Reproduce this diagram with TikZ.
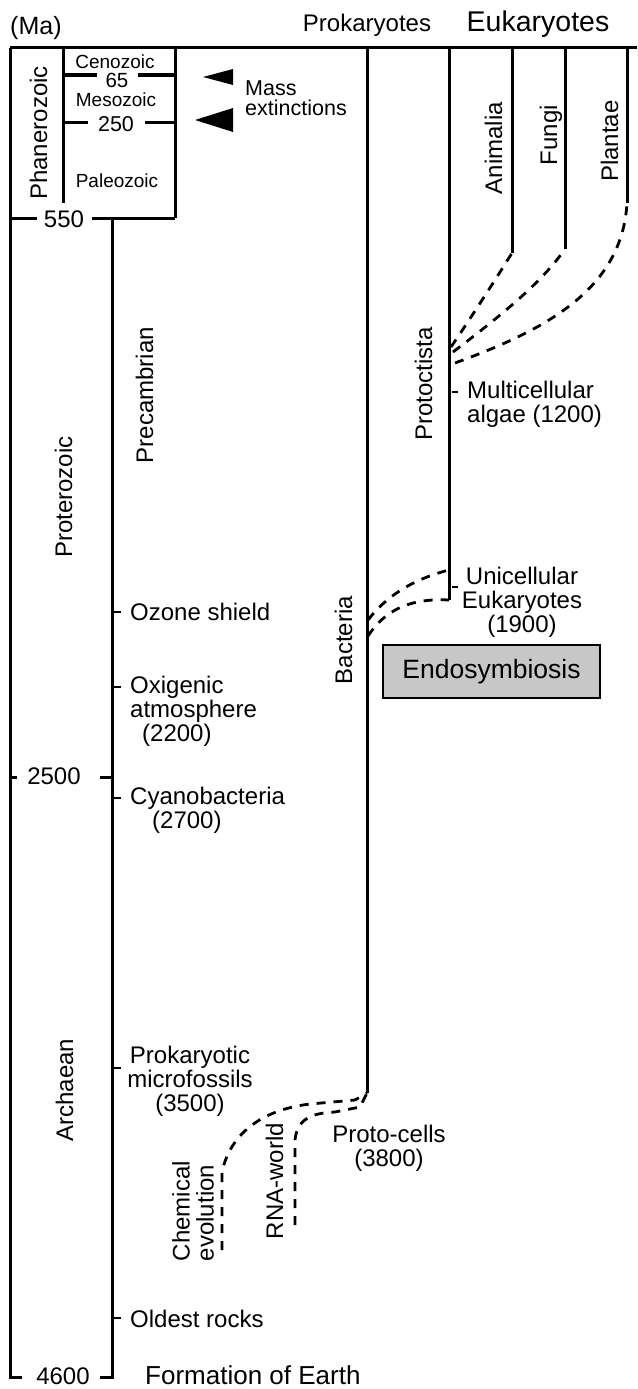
\documentclass[tikz,border=0pt]{standalone}
\usepackage{fontspec}
\setmainfont{Liberation Sans}
\usetikzlibrary{positioning,calc}
\newcommand{\fsz}[1]{\fontsize{#1}{24}\selectfont}

\begin{document}
\begin{tikzpicture}[x=1pt,y=-1pt,
    axis/.style={line width=3pt},
    branch/.style={line width=2.8pt,dash pattern=on 9pt off 8pt},
    tickmark/.style={line width=2pt},
    txt/.style={inner sep=0pt,font=\fsz{24}},
    vtxt/.style={inner sep=0pt,font=\fsz{24},rotate=90,anchor=base}]
  \useasboundingbox (0,0) rectangle (637,1389);
  % headers
  \node[txt,font=\fsz{25},anchor=base west] (ma) at (10,35) {(Ma)};
  \node[txt,anchor=base] (prok) at (367,32) {Prokaryotes};
  \node[txt,font=\fsz{28.5},anchor=base] (euk) at (538,32) {Eukaryotes};
  \draw[axis] (10,48) -- (637,48);
  % time axes
  \draw[axis] (10,48) -- (10,1377) -- (22,1377);
  \draw[axis] (112,218) -- (112,1377) -- (100,1377);
  \draw[axis] (10,777) -- (17,777) (100,777) -- (112,777);
  \node[txt,anchor=base] (t2500) at (54,784) {2500};
  \node[txt,anchor=base] (t4600) at (63,1384) {4600};
  \node[txt,font=\fsz{26},anchor=base west] (earth) at (145,1384) {Formation of Earth};
  % Phanerozoic box
  \draw[axis] (63,48) -- (63,203);
  \draw[axis] (175,48) -- (175,218);
  \draw[axis] (10,218) -- (37,218) (92,218) -- (175,218);
  \node[txt,anchor=base] (t550) at (64,227) {550};
  \draw[axis] (63,75) -- (97,75) (138,75) -- (175,75);
  \node[txt,font=\fsz{20.5},anchor=base] (t65) at (117,87) {65};
  \draw[axis] (63,122) -- (88,122) (145,122) -- (175,122);
  \node[txt,font=\fsz{21.5},anchor=base] (t250) at (116,131) {250};
  \node[txt,font=\fsz{19},anchor=base] (ceno) at (115,68) {Cenozoic};
  \node[txt,font=\fsz{19},anchor=base] (meso) at (116,106) {Mesozoic};
  \node[txt,font=\fsz{19},anchor=base] (paleo) at (117,187) {Paleozoic};
  \node[vtxt] (phan) at (47,133) {Phanerozoic};
  \node[vtxt] (prot) at (72,497) {Proterozoic};
  \node[vtxt] (arch) at (73,1090) {Archaean};
  \node[vtxt] (precam) at (153,395) {Precambrian};
  % mass extinctions
  \fill (203,77) -- (233,69) -- (233,85) -- cycle;
  \fill (195,120) -- (233,108) -- (233,132) -- cycle;
  \node[txt,font=\fontsize{21.5}{20}\selectfont,align=left,anchor=base west] (mass) at (245,115) {Mass\\extinctions};
  % events on the Precambrian axis
  \foreach \y in {612,687,798,1068,1318}
    \draw[tickmark] (114,\y) -- (121,\y);
  \node[txt,anchor=base west] (ozone) at (130,620) {Ozone shield};
  \node[txt,align=left,anchor=base west] (oxy) at (130,741) {Oxigenic\\atmosphere\\\hspace*{12pt}(2200)};
  \node[txt,align=left,anchor=base west] (cyano) at (130,828) {Cyanobacteria\\\hspace*{22pt}(2700)};
  \node[txt,align=center,anchor=base] (micro) at (190,1111) {Prokaryotic\\microfossils\\(3500)};
  \node[txt,anchor=base west] (rocks) at (130,1327) {Oldest rocks};
  % lineages
  \coordinate (bact) at (367,1093);
  \coordinate (protc) at (449,600);
  \coordinate (anim) at (512,253);
  \coordinate (fungi) at (565,249);
  \coordinate (plant) at (627,203);
  \draw[axis] (367,48) -- (bact);
  \draw[axis] (449,48) -- (protc);
  \draw[axis] (512,48) -- (anim);
  \draw[axis] (565,48) -- (fungi);
  \draw[axis] (627,48) -- (plant);
  \node[vtxt] (bactl) at (352,640) {Bacteria};
  \node[vtxt] (protl) at (432,384) {Protoctista};
  \node[vtxt] (animl) at (502,148) {Animalia};
  \node[vtxt] (fungl) at (557,135) {Fungi};
  \node[vtxt] (plantl) at (618,141) {Plantae};
  % branching
  \draw[branch] (451,347) .. controls (472,316) and (492,285) .. (anim);
  \draw[branch] (453,352) .. controls (495,320) and (540,285) .. (fungi);
  \draw[branch] (455,363) .. controls (545,330) and (622,290) .. (plant);
  \draw[branch] (368,620) .. controls (385,598) and (410,580) .. (449,570);
  \draw[branch] (368,636) .. controls (385,610) and (410,598) .. (protc);
  \foreach \y in {392,587}
    \draw[tickmark] (452,\y) -- (458,\y);
  \node[txt,align=left,anchor=base west] (multi) at (467,422) {Multicellular\\algae (1200)};
  \node[txt,align=center,anchor=base] (uni) at (522,632) {Unicellular\\Eukaryotes\\(1900)};
  \node[draw,line width=2.2pt,fill=black!22,minimum width=217pt,minimum height=53pt,
        inner sep=0pt,font=\fsz{26.5}] (endo) at (491.5,671.5) {Endosymbiosis};
  % origin of life
  \draw[branch] (222,1250) -- (222,1172) .. controls (230,1135) and (260,1110) .. (310,1104) -- (355,1100) -- (bact);
  \draw[branch] (295,1225) -- (295,1140) .. controls (297,1120) and (310,1113) .. (335,1112) -- (360,1107) -- (bact);
  \node[txt,rotate=90,align=left] (chem) at (193,1211) {Chemical\\evolution};
  \node[vtxt] (rna) at (283,1181) {RNA-world};
  \node[txt,align=center,anchor=base] (proto) at (389,1166) {Proto-cells\\(3800)};
\end{tikzpicture}
\end{document}
